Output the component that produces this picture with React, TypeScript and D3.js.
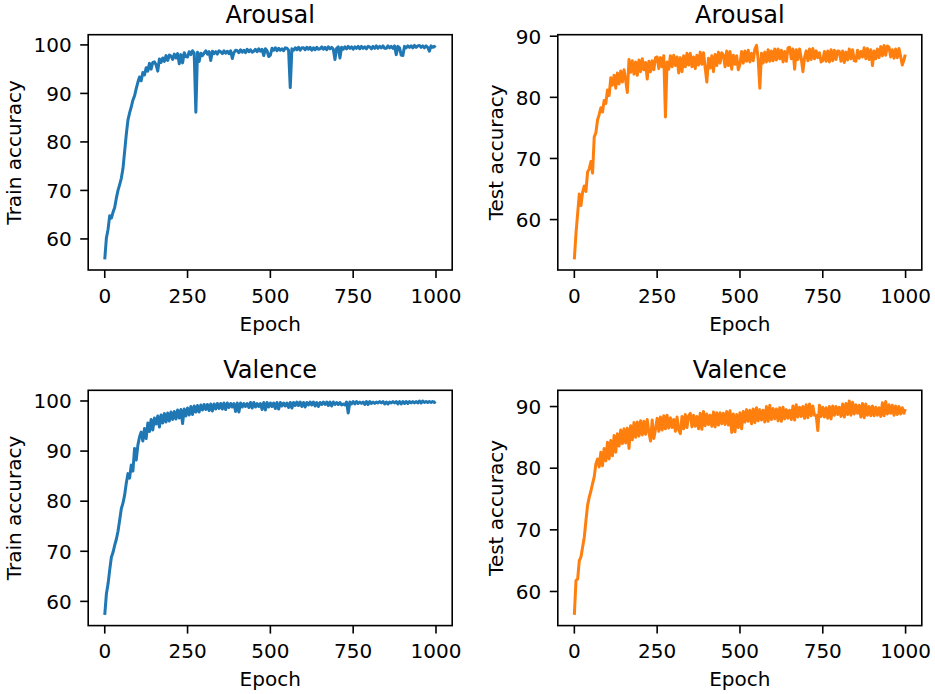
import * as d3 from "d3";

// epochs sampled every 5, plus the last one
const EPOCHS = [...d3.range(0, 1000, 5), 999];

const TRAIN_AROUSAL = [
  55.8, 60.2, 62.0, 64.8, 64.3, 65.5, 66.5, 68.4, 70.0, 71.2,
  72.5, 74.5, 78.0, 81.5, 84.5, 86.0, 87.2, 88.6, 89.5, 91.0,
  92.3, 93.4, 92.6, 94.3, 93.8, 95.3, 94.6, 96.2, 95.0, 96.4,
  96.5, 95.9, 94.6, 97.1, 96.4, 97.3, 96.6, 97.8, 96.8, 97.9,
  97.7, 97.0, 98.1, 97.3, 98.2, 96.1, 98.0, 96.3, 98.4, 97.6,
  97.5, 98.6, 98.0, 98.8, 98.3, 86.1, 98.5, 96.6, 98.3, 97.8,
  98.3, 98.8, 98.1, 98.6, 96.8, 98.7, 98.2, 98.6, 98.1, 98.8,
  98.6, 98.2, 98.8, 98.3, 98.7, 98.2, 98.8, 97.2, 98.4, 98.9,
  98.8, 98.4, 99.0, 98.5, 98.9, 98.4, 99.1, 98.6, 99.0, 98.5,
  98.7, 99.1, 98.6, 99.2, 98.7, 99.1, 97.8, 99.2, 98.8, 97.6,
  97.9, 99.3, 98.9, 99.4, 98.8, 99.3, 98.9, 99.2, 98.8, 99.4,
  99.3, 98.9, 91.2, 99.2, 98.9, 99.4, 99.0, 99.5, 98.9, 99.4,
  99.4, 99.0, 99.5, 99.1, 99.5, 98.9, 99.4, 99.0, 99.5, 99.1,
  99.2, 99.6, 99.1, 99.5, 99.0, 99.6, 99.2, 99.5, 99.1, 97.0,
  99.3, 99.6, 97.3, 99.5, 99.1, 99.6, 99.2, 99.7, 99.3, 99.6,
  99.1, 99.6, 99.3, 99.7, 99.2, 99.7, 99.3, 99.6, 99.2, 99.7,
  99.6, 99.2, 99.7, 99.3, 99.8, 99.3, 99.7, 99.4, 99.8, 99.3,
  99.3, 99.8, 99.4, 99.7, 99.3, 99.8, 98.0, 99.7, 99.4, 97.9,
  97.8, 99.7, 99.4, 99.8, 99.5, 99.8, 99.4, 99.9, 99.5, 99.8,
  99.9, 99.5, 99.8, 99.4, 99.8, 99.5, 98.7, 99.8, 99.5, 99.7,
  99.5,
];

const TEST_AROUSAL = [
  53.5, 57.8, 61.0, 64.2, 62.3, 64.5, 65.5, 64.6, 67.8, 68.3,
  69.5, 67.6, 73.5, 74.2, 76.3, 77.2, 78.3, 77.6, 79.5, 79.0,
  81.2, 80.3, 83.2, 82.0, 83.6, 81.5, 84.0, 82.2, 84.3, 82.5,
  84.5, 82.8, 80.8, 86.2, 84.1, 86.0, 83.8, 85.8, 83.6, 86.1,
  84.2, 86.3, 84.5, 85.7, 83.0, 85.9, 84.2, 86.0, 84.5, 86.5,
  86.6, 84.7, 86.5, 85.0, 86.8, 76.8, 85.8, 84.6, 86.8, 85.0,
  86.9, 85.2, 86.6, 84.0, 86.5, 84.2, 86.8, 85.0, 87.2, 85.3,
  87.2, 85.0, 86.6, 84.7, 86.9, 85.3, 87.4, 85.4, 87.3, 84.8,
  82.5, 86.4, 84.8, 86.8, 84.2, 87.0, 85.2, 87.4, 85.6, 87.3,
  86.9, 85.0, 87.6, 85.2, 87.5, 84.6, 86.9, 85.4, 86.8, 84.5,
  85.4, 87.5, 85.6, 87.6, 85.9, 87.7, 85.8, 87.2, 86.0, 87.9,
  88.5, 86.2, 81.5, 87.2, 85.6, 87.4, 85.8, 87.8, 85.9, 87.6,
  86.0, 87.9, 86.1, 87.9, 86.3, 87.7, 85.8, 87.5, 85.9, 88.1,
  88.2, 86.3, 87.9, 84.6, 87.8, 86.2, 87.9, 86.4, 84.2, 86.5,
  87.6, 86.0, 87.9, 86.2, 88.0, 86.3, 87.6, 86.5, 87.3, 85.8,
  86.0, 87.5, 85.9, 87.6, 85.8, 87.8, 86.0, 87.7, 86.2, 87.6,
  87.5, 85.9, 87.6, 85.7, 87.4, 86.1, 87.9, 86.3, 87.8, 86.0,
  85.9, 87.7, 86.4, 87.5, 86.6, 88.1, 86.3, 88.0, 86.2, 87.8,
  85.2, 87.6, 86.3, 87.9, 86.5, 88.3, 86.8, 88.5, 86.9, 88.4,
  88.2, 86.6, 87.8, 86.4, 87.9, 86.5, 88.0, 86.7, 85.3, 86.1,
  87.0,
];

const TRAIN_VALENCE = [
  57.3, 61.5, 63.5, 66.3, 68.8, 69.8, 71.2, 72.4, 74.0, 76.2,
  78.5, 79.6, 81.2, 83.6, 85.5, 84.6, 87.2, 86.0, 90.5, 88.2,
  91.2, 92.8, 93.8, 92.0, 94.5, 92.5, 95.6, 93.9, 96.3, 94.2,
  96.6, 95.4, 97.0, 94.8, 97.2, 95.6, 97.5, 95.8, 97.6, 96.0,
  97.8, 96.3, 97.9, 96.4, 98.2, 96.6, 98.3, 95.5, 98.4, 97.0,
  98.6, 97.2, 98.9, 97.3, 99.0, 97.8, 99.1, 97.8, 99.2, 98.2,
  99.3, 98.3, 99.3, 98.1, 99.4, 98.0, 99.4, 98.4, 99.5, 98.5,
  99.5, 98.4, 99.6, 98.3, 99.6, 98.7, 99.5, 98.8, 99.5, 97.9,
  99.6, 97.8, 99.6, 98.8, 99.5, 98.9, 99.5, 98.7, 99.7, 98.6,
  99.7, 98.8, 99.5, 98.9, 99.5, 98.3, 99.7, 98.2, 99.7, 98.8,
  99.6, 98.9, 99.6, 98.5, 99.7, 98.4, 99.7, 99.0, 99.6, 99.0,
  99.6, 98.7, 99.7, 98.6, 99.7, 99.1, 99.8, 99.1, 99.8, 98.9,
  99.7, 98.8, 99.7, 99.2, 99.8, 99.2, 99.8, 99.0, 99.7, 98.9,
  99.7, 99.3, 99.8, 99.3, 99.8, 99.1, 99.8, 99.0, 99.8, 99.3,
  99.7, 99.3, 99.7, 99.2, 99.4, 99.2, 99.8, 97.6, 99.8, 99.4,
  99.9, 99.4, 99.9, 99.5, 99.8, 99.5, 99.8, 99.3, 99.9, 99.3,
  99.9, 99.5, 99.8, 99.5, 99.8, 99.6, 99.9, 99.6, 99.9, 99.4,
  99.8, 99.4, 99.8, 99.6, 99.9, 99.6, 99.9, 99.4, 99.9, 99.4,
  99.9, 99.5, 99.9, 99.5, 99.9, 99.6, 99.9, 99.6, 99.9, 99.6,
  100.0, 99.6, 100.0, 99.7, 99.9, 99.7, 99.9, 99.7, 99.9, 99.7,
  99.9,
];

const TEST_VALENCE = [
  56.2, 61.8, 62.0, 65.0, 65.6, 67.2, 68.8, 71.5, 74.0, 75.3,
  76.3, 77.5, 78.6, 80.7, 81.5, 80.2, 82.6, 80.4, 83.2, 81.2,
  84.2, 81.5, 84.5, 82.0, 85.3, 82.6, 85.6, 83.6, 86.2, 84.0,
  86.4, 84.1, 86.5, 83.2, 86.9, 84.6, 87.4, 85.0, 87.5, 85.2,
  87.7, 85.4, 87.6, 85.5, 87.9, 85.8, 84.4, 87.8, 84.8, 86.3,
  88.1, 86.0, 88.3, 86.2, 88.5, 86.4, 88.6, 86.5, 88.2, 86.6,
  87.9, 86.0, 88.3, 86.2, 85.6, 88.4, 86.4, 88.7, 86.6, 88.5,
  88.9, 86.7, 88.6, 86.8, 88.4, 86.4, 88.9, 86.3, 89.2, 86.9,
  88.8, 87.1, 88.6, 86.8, 89.1, 86.7, 89.0, 87.0, 89.0, 87.2,
  88.9, 87.1, 89.2, 87.0, 89.3, 85.8, 88.8, 85.9, 88.7, 86.6,
  89.0, 86.4, 89.2, 87.5, 89.5, 87.6, 89.4, 87.2, 89.6, 87.4,
  89.8, 87.7, 89.5, 87.8, 89.4, 87.5, 90.0, 87.6, 90.2, 87.9,
  89.7, 88.0, 89.6, 87.7, 89.8, 87.6, 89.9, 88.0, 89.5, 88.1,
  89.4, 87.9, 90.1, 87.8, 90.3, 88.3, 89.9, 88.4, 90.0, 88.1,
  90.3, 88.2, 90.4, 88.5, 90.1, 88.6, 88.6, 86.1, 90.2, 88.4,
  89.9, 88.3, 89.8, 88.1, 90.0, 88.0, 90.1, 88.6, 90.0, 88.7,
  89.9, 88.4, 90.4, 88.3, 90.5, 88.7, 90.9, 88.6, 90.7, 88.8,
  90.3, 88.9, 90.2, 88.3, 90.5, 88.2, 90.4, 88.6, 90.0, 88.5,
  90.1, 88.5, 89.9, 88.6, 89.8, 88.4, 90.6, 88.5, 90.8, 88.8,
  90.3, 88.9, 90.2, 88.6, 90.1, 88.7, 90.0, 88.8, 89.8, 88.9,
  89.6,
];

const X_TICKS = [0, 250, 500, 750, 1000];
const TRAIN_TICKS = [60, 70, 80, 90, 100];
const TEST_TICKS = [60, 70, 80, 90];

const BLUE = "#1f77b4";
const ORANGE = "#ff7f0e";
const FONT = "DejaVu Sans, sans-serif";

interface PanelProps {
  left: number;
  top: number;
  title: string;
  ylabel: string;
  ylabelX: number;
  values: number[];
  color: string;
  yTicks: number[];
}

const W = 364, H = 235.3;
const TICK = 8;

function Panel({ left, top, title, ylabel, ylabelX, values, color, yTicks }: PanelProps) {
  // matplotlib-style 5% margins
  const x = d3.scaleLinear().domain([-49.95, 1048.95]).range([left, left + W]);
  const [lo, hi] = d3.extent(values) as [number, number];
  const m = (hi - lo) * 0.05;
  const y = d3.scaleLinear().domain([lo - m, hi + m]).range([top + H, top]);

  const line = d3.line<number>()
    .x((_, i) => x(EPOCHS[i]))
    .y((d) => y(d));

  const bottom = top + H;
  const cx = left + W / 2;

  return (
    <g fontFamily={FONT} fill="#000">
      <path d={line(values) ?? ""} fill="none" stroke={color} strokeWidth={3} strokeLinejoin="round" />
      <rect x={left} y={top} width={W} height={H} fill="none" stroke="#000" strokeWidth={1.6} />
      {X_TICKS.map((t) => (
        <g key={"x" + t}>
          <line x1={x(t)} x2={x(t)} y1={bottom} y2={bottom + TICK} stroke="#000" strokeWidth={1.6} />
          <text x={x(t)} y={bottom + 32.5} fontSize={20} textAnchor="middle">{t}</text>
        </g>
      ))}
      {yTicks.map((t) => (
        <g key={"y" + t}>
          <line x1={left - TICK} x2={left} y1={y(t)} y2={y(t)} stroke="#000" strokeWidth={1.6} />
          <text x={left - 16.5} y={y(t) + 7.3} fontSize={20} textAnchor="end">{t}</text>
        </g>
      ))}
      <text x={cx} y={bottom + 60.5} fontSize={20} textAnchor="middle">Epoch</text>
      <text x={cx} y={top - 12} fontSize={24} textAnchor="middle">{title}</text>
      <text
        transform={`translate(${ylabelX},${top + H / 2}) rotate(-90)`}
        fontSize={20}
        textAnchor="middle"
      >
        {ylabel}
      </text>
    </g>
  );
}

export default function App() {
  return (
    <svg
      width={935}
      height={694}
      style={{ position: "absolute", left: 0, top: 0, background: "#fff" }}
    >
      <Panel left={88.2} top={34.7} title="Arousal" ylabel="Train accuracy" ylabelX={20.8}
        values={TRAIN_AROUSAL} color={BLUE} yTicks={TRAIN_TICKS} />
      <Panel left={557.8} top={34.7} title="Arousal" ylabel="Test accuracy" ylabelX={503}
        values={TEST_AROUSAL} color={ORANGE} yTicks={TEST_TICKS} />
      <Panel left={88.2} top={390.3} title="Valence" ylabel="Train accuracy" ylabelX={20.8}
        values={TRAIN_VALENCE} color={BLUE} yTicks={TRAIN_TICKS} />
      <Panel left={557.8} top={390.3} title="Valence" ylabel="Test accuracy" ylabelX={503}
        values={TEST_VALENCE} color={ORANGE} yTicks={TEST_TICKS} />
    </svg>
  );
}
